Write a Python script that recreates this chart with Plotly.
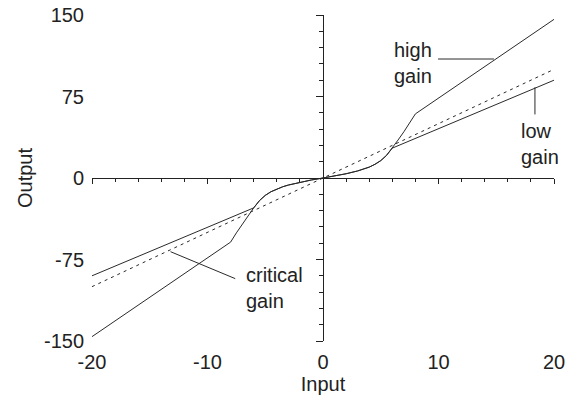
import plotly.graph_objects as go

# ---- data ----
high_x = [-20, -8, -7.5, -7, -6.5, -6, -5.5, -5, -4.5, -4, -3.5, -3, -2, -1, 0,
          1, 2, 3, 3.5, 4, 4.5, 5, 5.5, 6, 6.5, 7, 7.5, 8, 20]
high_y = [-146, -59, -50.5, -42.5, -35, -27.5, -20.8, -16, -12.6, -10, -8.1, -6.5, -3.9, -1.8, 0,
          1.8, 3.9, 6.5, 8.1, 10, 12.6, 16, 20.8, 27.5, 35, 42.5, 50.5, 59, 146]

low_x = [-20, -6, -5.5, -5, -4.5, -4, -3.5, -3, -2, -1, 0,
         1, 2, 3, 3.5, 4, 4.5, 5, 5.5, 6, 20]
low_y = [-90, -27.5, -20.8, -16, -12.6, -10, -8.1, -6.5, -3.9, -1.8, 0,
         1.8, 3.9, 6.5, 8.1, 10, 12.6, 16, 20.8, 27.5, 90]

crit_x = [-20, 20]
crit_y = [-100, 100]

x_ticks = [-20, -10, 0, 10, 20]
x_tick_text = ["-20", "-10", "0", "10", "20"]
y_ticks = [-150, -75, 0, 75, 150]
y_tick_text = ["-150", "-75", "0", "75", "150"]

labels = ["high<br>gain", "low<br>gain", "critical<br>gain"]
label_x = [6.0, 17.0, -6.8]
label_y = [106, 31, -101]

# leader lines (x0, y0, x1, y1) in data units
leaders = [(9.96, 109.5, 14.8, 109.5),
           (18.35, 83.5, 18.35, 58.5),
           (-13.2, -67.8, -7.6, -92.6)]

FONT = "Liberation Sans, Arial, Helvetica, sans-serif"
INK = "#222222"
LINE = "#2a2a2a"
FS = 20

fig = go.Figure()
fig.add_trace(go.Scatter(x=crit_x, y=crit_y, mode="lines",
                         line=dict(color=LINE, width=1, dash="3px,4px"),
                         hoverinfo="skip", showlegend=False))
fig.add_trace(go.Scatter(x=low_x, y=low_y, mode="lines",
                         line=dict(color=LINE, width=1),
                         hoverinfo="skip", showlegend=False))
fig.add_trace(go.Scatter(x=high_x, y=high_y, mode="lines",
                         line=dict(color=LINE, width=1),
                         hoverinfo="skip", showlegend=False))
# invisible traces to attach the centre axes
fig.add_trace(go.Scatter(x=[0], y=[0], xaxis="x2", yaxis="y", mode="markers",
                         marker=dict(opacity=0), hoverinfo="skip", showlegend=False))
fig.add_trace(go.Scatter(x=[0], y=[0], xaxis="x", yaxis="y2", mode="markers",
                         marker=dict(opacity=0), hoverinfo="skip", showlegend=False))

for (x0, y0, x1, y1) in leaders:
    fig.add_shape(type="line", x0=x0, y0=y0, x1=x1, y1=y1, xref="x", yref="y",
                  line=dict(color=LINE, width=1))

for t, lx, ly in zip(labels, label_x, label_y):
    fig.add_annotation(x=lx, y=ly, text=t, showarrow=False, xanchor="left",
                       yanchor="middle", align="left",
                       font=dict(family=FONT, size=FS, color=INK))

fig.update_layout(
    width=577, height=396,
    margin=dict(l=92, r=23, t=15, b=55, autoexpand=False),
    paper_bgcolor="white", plot_bgcolor="white",
    font=dict(family=FONT, size=FS, color=INK),
    xaxis=dict(range=[-20, 20], tickvals=x_ticks, ticktext=x_tick_text,
               showgrid=False, zeroline=False, showline=False, ticks="",
               ticklabelstandoff=7, automargin=False,
               title=dict(text="Input", font=dict(size=FS), standoff=4)),
    yaxis=dict(range=[-150, 150], tickvals=y_ticks, ticktext=y_tick_text,
               showgrid=False, zeroline=False, showline=False, ticks="",
               ticklabelstandoff=7, automargin=False,
               title=dict(text="Output", font=dict(size=FS), standoff=5)),
    xaxis2=dict(overlaying="x", matches="x", anchor="free", position=0.5, side="bottom",
                showline=True, linecolor=INK, linewidth=1, showgrid=False, zeroline=False,
                showticklabels=False, ticks="outside", tick0=0, dtick=10, ticklen=5,
                tickcolor=INK, tickwidth=1, automargin=False,
                minor=dict(ticks="outside", dtick=2, ticklen=3, tickcolor=INK, tickwidth=1,
                           showgrid=False)),
    yaxis2=dict(overlaying="y", matches="y", anchor="free", position=0.5, side="left",
                showline=True, linecolor=INK, linewidth=1, showgrid=False, zeroline=False,
                showticklabels=False, ticks="outside", tick0=0, dtick=75, ticklen=7,
                tickcolor=INK, tickwidth=1, automargin=False,
                minor=dict(ticks="outside", dtick=15, ticklen=4, tickcolor=INK, tickwidth=1,
                           showgrid=False)),
)

fig.write_html("out.html")
